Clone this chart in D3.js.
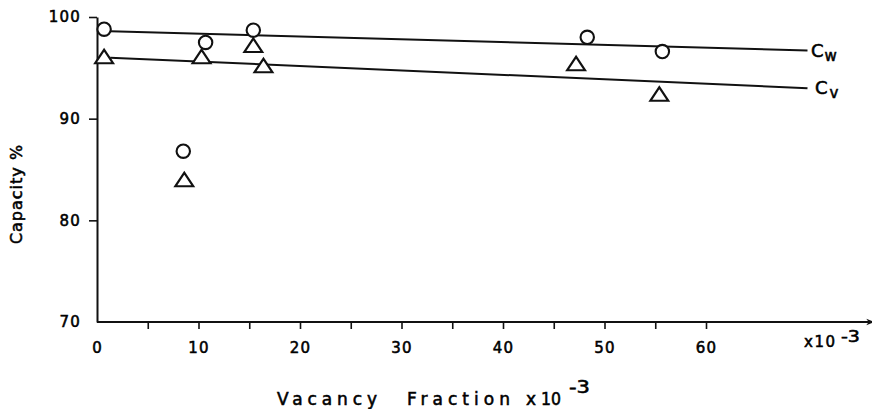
<!DOCTYPE html>
<html>
<head>
<meta charset="utf-8">
<script src="https://cdn.jsdelivr.net/npm/d3@7"></script>
<style>
  html, body { margin: 0; padding: 0; background: #fff; }
  svg text { font-family: "DejaVu Sans", sans-serif; fill: #000; stroke: #000; stroke-width: 0.55px; }
</style>
</head>
<body>
<svg id="chart" width="872" height="409"></svg>
<script>
// ---- data ----
const cwX = [0.7, 10.7, 15.4, 8.5, 48.3, 55.7];
const cwY = [98.8, 97.5, 98.7, 86.8, 98.0, 96.6];
const cvX = [0.7, 10.3, 15.4, 16.4, 8.6, 47.2, 55.4];
const cvY = [95.9, 95.9, 97.0, 95.0, 83.8, 95.2, 92.2];
const fitCwX = [1.3, 70];
const fitCwY = [98.6, 96.7];
const fitCvX = [1.3, 70];
const fitCvY = [96.0, 93.0];
const xTicks = [0, 5, 10, 15, 20, 25, 30, 35, 40, 45, 50, 55, 60];
const xLabels = ["0", "", "10", "", "20", "", "30", "", "40", "", "50", "", "60"];
const yTicks = [70, 80, 90, 100];
const yLabels = ["70", "80", "90", "100"];

const svg = d3.select("#chart");
const x = d3.scaleLinear().domain([0, 60]).range([97, 706]);
const y = d3.scaleLinear().domain([70, 100]).range([322, 17]);

const ink = "#111";

// arrow marker
svg.append("defs").append("marker")
  .attr("id", "arrow").attr("viewBox", "0 0 10 10")
  .attr("refX", 9).attr("refY", 5)
  .attr("markerWidth", 11).attr("markerHeight", 8)
  .attr("markerUnits", "userSpaceOnUse")
  .attr("orient", "auto")
  .append("path").attr("d", "M0,1 L10,5 L0,9 L3,5 Z").attr("fill", ink);

// x axis
const xAxis = d3.axisBottom(x)
  .tickValues(xTicks)
  .tickFormat((d, i) => xLabels[i])
  .tickSize(7).tickSizeOuter(0).tickPadding(13);
const gx = svg.append("g").attr("transform", `translate(0,${y(70)})`).call(xAxis);
gx.select(".domain").remove();
gx.selectAll(".tick line").attr("stroke", ink).attr("stroke-width", 1.6);
gx.selectAll(".tick").filter(d => d === 0).select("line").remove();
gx.selectAll(".tick text").attr("font-size", 15).attr("letter-spacing", 1.2);
svg.append("line")
  .attr("x1", x(0)).attr("x2", x(76.5))
  .attr("y1", y(70)).attr("y2", y(70))
  .attr("stroke", ink).attr("stroke-width", 2)
  .attr("marker-end", "url(#arrow)");

// y axis
const yAxis = d3.axisLeft(y)
  .tickValues(yTicks)
  .tickFormat((d, i) => yLabels[i])
  .tickSize(8).tickSizeOuter(0).tickPadding(8);
const gy = svg.append("g").attr("transform", `translate(${x(0)},0)`).call(yAxis);
gy.select(".domain").attr("stroke", ink).attr("stroke-width", 2);
gy.selectAll(".tick line").attr("stroke", ink).attr("stroke-width", 1.6);
gy.selectAll(".tick").filter(d => d === 70).select("line").remove();
gy.selectAll(".tick text").attr("font-size", 15).attr("letter-spacing", 1.2);

// fit lines
const line = d3.line().x(d => x(d[0])).y(d => y(d[1]));
svg.append("path").datum(fitCwX.map((v, i) => [v, fitCwY[i]]))
  .attr("d", line).attr("fill", "none").attr("stroke", ink).attr("stroke-width", 2);
svg.append("path").datum(fitCvX.map((v, i) => [v, fitCvY[i]]))
  .attr("d", line).attr("fill", "none").attr("stroke", ink).attr("stroke-width", 2);

// circles
svg.append("g").selectAll("circle")
  .data(cwX.map((v, i) => [v, cwY[i]]))
  .join("circle")
  .attr("cx", d => x(d[0])).attr("cy", d => y(d[1])).attr("r", 6.7)
  .attr("fill", "#fff").attr("stroke", ink).attr("stroke-width", 2.1);

// triangles
const tri = d3.symbol().type(d3.symbolTriangle).size(105);
svg.append("g").selectAll("path")
  .data(cvX.map((v, i) => [v, cvY[i]]))
  .join("path")
  .attr("d", tri)
  .attr("transform", d => `translate(${x(d[0])},${y(d[1])}) scale(1.15,1)`)
  .attr("fill", "#fff").attr("stroke", ink).attr("stroke-width", 2);

// line labels
const tw = svg.append("text").attr("x", 811).attr("y", y(fitCwY[1]) + 6)
  .attr("font-size", 18);
tw.append("tspan").text("C");
tw.append("tspan").attr("font-size", 15).attr("dx", 1).attr("dy", 4).text("w");
const tv = svg.append("text").attr("x", 815).attr("y", y(fitCvY[1]) + 6)
  .attr("font-size", 18);
tv.append("tspan").text("C");
tv.append("tspan").attr("font-size", 15).attr("dx", 2).attr("dy", 4).text("v");

// x10^-3 at axis end
svg.append("text").attr("x", 804).attr("y", 347).attr("font-size", 15)
  .attr("textLength", 31).attr("lengthAdjust", "spacing").text("x10");
svg.append("text").attr("x", 841).attr("y", 342).attr("font-size", 15)
  .attr("textLength", 19).attr("lengthAdjust", "spacingAndGlyphs").text("-3");

// x axis title
const titleSize = 17;
svg.append("text").attr("x", 277).attr("y", 405).attr("font-size", titleSize)
  .attr("textLength", 100).attr("lengthAdjust", "spacing").text("Vacancy");
svg.append("text").attr("x", 407).attr("y", 405).attr("font-size", titleSize)
  .attr("textLength", 103).attr("lengthAdjust", "spacing").text("Fraction");
svg.append("text").attr("x", 526).attr("y", 405).attr("font-size", titleSize).text("x");
svg.append("text").attr("x", 541).attr("y", 405).attr("font-size", titleSize)
  .attr("textLength", 20).attr("lengthAdjust", "spacingAndGlyphs").text("10");
svg.append("text").attr("x", 569).attr("y", 393).attr("font-size", titleSize)
  .attr("textLength", 21).attr("lengthAdjust", "spacingAndGlyphs").text("-3");

// y axis title
svg.append("text")
  .attr("transform", "translate(22,194) rotate(-90)")
  .attr("text-anchor", "middle")
  .attr("font-size", 16).attr("letter-spacing", 1)
  .text("Capacity %");
</script>
</body>
</html>
